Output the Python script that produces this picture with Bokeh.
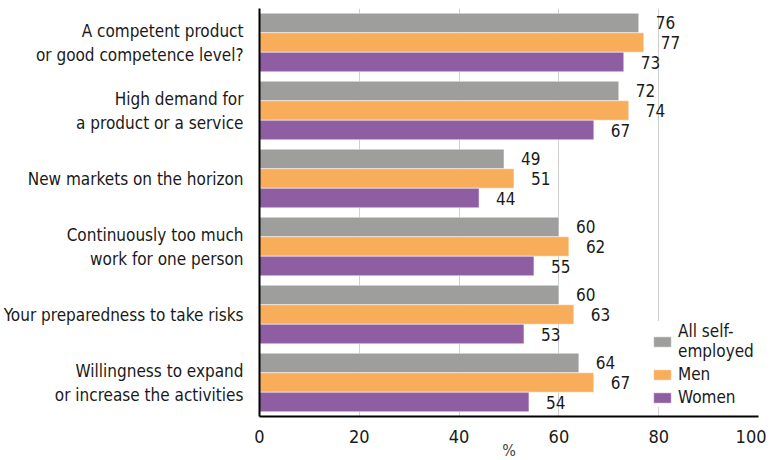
from bokeh.plotting import figure
from bokeh.models import ColumnDataSource, Legend, LegendItem, FactorRange, FixedTicker
from bokeh.transform import dodge
from bokeh.core.properties import value
from bokeh.embed import file_html
from bokeh.resources import INLINE

categories = [
    "A competent product\nor good competence level?",
    "High demand for\na product or a service",
    "New markets on the horizon",
    "Continuously too much\nwork for one person",
    "Your preparedness to take risks",
    "Willingness to expand\nor increase the activities",
]
all_self = [76, 72, 49, 60, 60, 64]
men = [77, 74, 51, 62, 63, 67]
women = [73, 67, 44, 55, 53, 54]
series_names = ["All self-\nemployed", "Men", "Women"]
colors = ["#9e9e9d", "#f8ad5b", "#8f5ea2"]
x_ticks = [0, 20, 40, 60, 80, 100]

FONT = "DejaVu Sans Condensed"

factors = list(reversed(categories))
src = ColumnDataSource(dict(cat=categories, a=all_self, m=men, w=women,
                            al=[str(v) for v in all_self],
                            ml=[str(v) for v in men],
                            wl=[str(v) for v in women]))

p = figure(frame_width=499, frame_height=408,
           y_range=FactorRange(factors=factors, range_padding=0),
           x_range=(0, 100), output_backend="svg", toolbar_location=None,
           min_border_left=258, min_border_right=8, min_border_top=8, min_border_bottom=10)

bh = 0.287
offsets = [bh, 0, -bh]
cols = ["a", "m", "w"]
lcols = ["al", "ml", "wl"]
renderers = []
for off, c, lc, color in zip(offsets, cols, lcols, colors):
    r = p.hbar(y=dodge("cat", off, range=p.y_range), right=c, left=0, height=bh,
               source=src, fill_color=color, line_color="white", line_width=1, line_alpha=0.5)
    renderers.append(r)
    p.text(x=c, y=dodge("cat", off, range=p.y_range), text=lc, source=src,
           x_offset=17, text_align="left", text_baseline="middle",
           text_font_size="17px", text_color="#1a1a1a", text_font=value(FONT))

legend = Legend(items=[LegendItem(label=n, renderers=[r]) for n, r in zip(series_names, renderers)],
                location=(392, 9), background_fill_color="white", background_fill_alpha=1,
                border_line_color=None, label_text_font=FONT, label_text_font_size="17px",
                label_text_color="#1a1a1a", glyph_width=22, glyph_height=13, spacing=3,
                padding=2, margin=0, label_standoff=5)
p.add_layout(legend)

p.xaxis.ticker = FixedTicker(ticks=x_ticks)
p.xaxis.axis_label = "%"
p.xaxis.axis_label_text_font = FONT
p.xaxis.axis_label_text_font_style = "normal"
p.xaxis.axis_label_text_font_size = "16px"
p.xaxis.axis_label_standoff = -5
p.xaxis.major_label_text_font = FONT
p.xaxis.major_label_text_font_size = "18px"
p.xaxis.major_label_text_color = "#1a1a1a"
p.xaxis.major_tick_line_color = None
p.xaxis.minor_tick_line_color = None
p.xaxis.axis_line_width = 2
p.xaxis.axis_line_color = "black"
p.xaxis.major_label_standoff = 7

p.yaxis.major_label_text_font = FONT
p.yaxis.major_label_text_font_size = "17px"
p.yaxis.major_label_text_color = "#1a1a1a"
p.yaxis.major_tick_line_color = None
p.yaxis.minor_tick_line_color = None
p.yaxis.axis_line_width = 2
p.yaxis.axis_line_color = "black"
p.yaxis.major_label_standoff = 10

p.xgrid.grid_line_color = "#cfcfcf"
p.xgrid.grid_line_width = 1
p.ygrid.grid_line_color = None
p.outline_line_color = None

open("out.html", "w").write(file_html(p, INLINE))
